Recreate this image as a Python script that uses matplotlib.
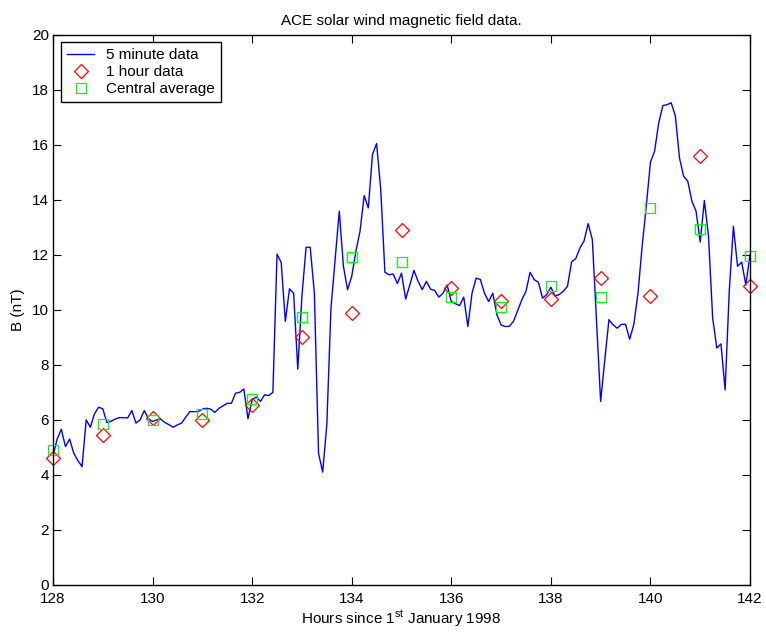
import numpy as np
import matplotlib
matplotlib.use("Agg")
import matplotlib.pyplot as plt

# ---- data ----
t_start = 128.0
step_5min = 1.0 / 12.0
b_5min = [
    4.7, 5.3, 5.66, 5.03, 5.3, 4.79, 4.52, 4.30, 6.0, 5.73,
    6.22, 6.46, 6.4, 5.9, 5.95, 6.03, 6.08, 6.08, 6.07, 6.34,
    5.88, 6.0, 6.34, 6.04, 5.94, 6.0, 6.02, 5.9, 5.82, 5.73,
    5.82, 5.88, 6.1, 6.3, 6.3, 6.3, 6.39, 6.42, 6.39, 6.27,
    6.42, 6.51, 6.6, 6.6, 6.97, 7.0, 7.12, 6.04, 6.73, 6.83,
    6.67, 6.91, 6.88, 7.0, 12.02, 11.72, 9.58, 10.76, 10.6, 7.84,
    10.5, 12.27, 12.27, 10.6, 4.79, 4.1, 5.82, 10.06, 11.8, 13.58,
    11.58, 10.73, 11.21, 12.12, 12.85, 14.15, 13.7, 15.64, 16.04, 14.36,
    11.36, 11.27, 11.3, 10.95, 11.33, 10.39, 10.9, 11.43, 11.03, 10.73,
    11.03, 10.75, 10.7, 10.46, 10.6, 10.9, 10.3, 10.22, 10.15, 10.46,
    9.39, 10.6, 11.15, 11.1, 10.6, 10.3, 10.6, 9.82, 9.45, 9.39,
    9.4, 9.58, 9.97, 10.36, 10.67, 11.36, 11.09, 11.0, 10.42, 10.55,
    10.82, 10.5, 10.55, 10.67, 10.85, 11.74, 11.86, 12.24, 12.5, 13.13,
    12.55, 9.61, 6.67, 8.18, 9.64, 9.45, 9.33, 9.47, 9.47, 8.93,
    9.47, 10.6, 12.3, 13.76, 15.36, 15.76, 16.79, 17.42, 17.45, 17.52,
    17.05, 15.52, 14.85, 14.67, 13.94, 13.58, 12.46, 13.97, 12.67, 9.7,
    8.61, 8.76, 7.09, 10.67, 13.03, 11.58, 11.73, 10.9, 12.0,
]
hours = [128, 129, 130, 131, 132, 133, 134, 135, 136, 137, 138, 139, 140, 141, 142]
b_1hour = [4.6, 5.45, 6.05, 6.0, 6.55, 9.0, 9.9, 12.9, 10.8, 10.3, 10.4, 11.15, 10.5, 15.6, 10.85]
b_central = [4.9, 5.85, 6.0, 6.2, 6.75, 9.75, 11.9, 11.75, 10.45, 10.1, 10.85, 10.45, 13.7, 12.95, 11.95]
x_ticks = [128, 130, 132, 134, 136, 138, 140, 142]
y_ticks = [0, 2, 4, 6, 8, 10, 12, 14, 16, 18, 20]

t_5min = t_start + step_5min * np.arange(len(b_5min))

FS = 11
plt.rcParams['font.family'] = ['Liberation Sans', 'DejaVu Sans']
plt.rcParams['mathtext.fontset'] = 'custom'
plt.rcParams['mathtext.rm'] = 'Liberation Sans'
plt.rcParams['font.size'] = FS

fig = plt.figure(figsize=(7.66, 6.32), dpi=100)
ax = fig.add_axes([53/766, 47/632, 697/766, 550.5/632])

ax.plot(t_5min, b_5min, color='#0000ff', lw=1.0, label='5 minute data')
ax.plot(hours, b_1hour, linestyle='none', marker='D', ms=7, mfc='none',
        mec='#ff0000', mew=0.9, label='1 hour data', clip_on=False)
ax.plot(hours, b_central, linestyle='none', marker='s', ms=6.5, mfc='none',
        mec='#00ff00', mew=0.9, label='Central average', clip_on=False)

ax.set_xlim(128, 142)
ax.set_ylim(0, 20)
ax.set_xticks(x_ticks)
ax.set_yticks(y_ticks)
ax.tick_params(direction='in', top=True, right=True, length=6, width=0.8,
               labelsize=FS)
ax.tick_params(axis='x', pad=5)
ax.tick_params(axis='y', pad=3)
for s in ax.spines.values():
    s.set_linewidth(1.0)

ax.set_title('ACE solar wind magnetic field data.', fontsize=FS, pad=7)
ax.set_xlabel('Hours since 1$^{\\mathrm{st}}$ January 1998', fontsize=FS, labelpad=2)
ax.set_ylabel('B (nT)', fontsize=FS, labelpad=5)

leg = ax.legend(loc='upper left', fancybox=False, framealpha=1, edgecolor='black',
                borderaxespad=0.5, handlelength=1.8, handletextpad=0.75,
                borderpad=0.4, labelspacing=0.2, fontsize=FS)
leg.get_frame().set_linewidth(1.0)

fig.savefig('out.png', dpi=100)
